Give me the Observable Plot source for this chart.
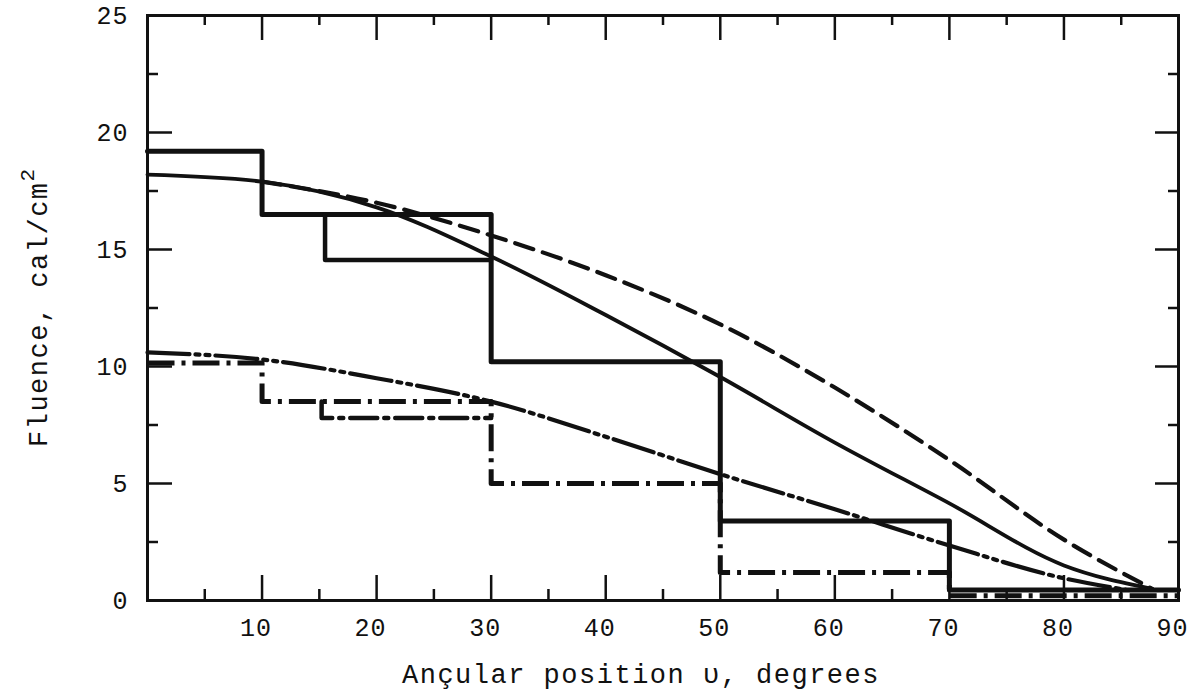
<!DOCTYPE html>
<html>
<head>
<meta charset="utf-8">
<script src="https://cdn.jsdelivr.net/npm/d3@7"></script>
<script src="https://cdn.jsdelivr.net/npm/@observablehq/plot@0.6"></script>
<style>
  html, body { margin: 0; padding: 0; background: #fff; }
  #chart svg { display: block; }
</style>
</head>
<body>
<div id="chart"></div>
<script>
// Axis ticks
const xTickLabels = [10, 20, 30, 40, 50, 60, 70, 80, 90];
const yTickLabels = [0, 5, 10, 15, 20, 25];
const xMajorTicks = [10, 20, 30, 40, 50, 60, 70, 80];
const xMinorTicks = [5, 15, 25, 35, 45, 55, 65, 75, 85];
const yMajorTicks = [5, 10, 15, 20];
const yMinorTicks = [2.5, 7.5, 12.5, 17.5, 22.5];

// Histogram bins (edges in degrees) and bin fluences
const binEdges = [0, 10, 30, 50, 70, 90];
const solidBins = [19.2, 16.5, 10.2, 3.4, 0.45];
const dashDotBins = [10.15, 8.5, 5.0, 1.2, 0.2];

// Partial sub-bins ending at 30 degrees
const solidSubEdge = 15.5;
const solidSub = [16.5, 14.55];
const dashDotSubEdge = 15.2;
const dashDotSub = [8.5, 7.8];

// Smooth distributions
const solidCurveAngle = [0, 10, 20, 30, 40, 50, 60, 70, 80, 87.7];
const solidCurveValue = [18.2, 17.9, 16.8, 14.7, 12.2, 9.55, 6.75, 4.15, 1.5, 0.5];
const dashedCurveAngle = [10, 20, 30, 40, 50, 60, 70, 80, 87.7];
const dashedCurveValue = [17.9, 17.0, 15.6, 13.9, 11.8, 9.1, 6.0, 2.6, 0.5];
const dddCurveAngle = [0, 10, 20, 30, 40, 50, 60, 70, 80, 85.5];
const dddCurveValue = [10.6, 10.3, 9.5, 8.5, 7.0, 5.4, 3.9, 2.35, 0.95, 0.45];

const W = 1190, H = 694;
const mL = 147, mR = 12, mT = 15, mB = 94;
const innerW = W - mL - mR, innerH = H - mT - mB;
const FONT = "'Liberation Mono', 'DejaVu Sans Mono', monospace";
const INK = "#111";

const stepPoints = (edges, vals) =>
  edges.map((e, i) => ({x: e, y: vals[Math.min(i, vals.length - 1)]}));
const subPoints = (edge, vals, end) =>
  [{x: edge, y: vals[0]}, {x: edge, y: vals[1]}, {x: end, y: vals[1]}];
const zipPts = (xs, ys) => xs.map((x, i) => ({x, y: ys[i]}));

const plot = Plot.plot({
  width: W,
  height: H,
  marginLeft: mL,
  marginRight: mR,
  marginTop: mT,
  marginBottom: mB,
  style: {fontFamily: FONT, fontSize: "25px", color: INK, background: "#fff", letterSpacing: "1px"},
  x: {domain: [0, 90], label: null},
  y: {domain: [0, 25], label: null},
  marks: [
    // inward ticks on all four sides
    Plot.tickY(yMajorTicks, {y: d => d, insetRight: innerW - 25, stroke: INK, strokeWidth: 2.5}),
    Plot.tickY(yMinorTicks, {y: d => d, insetRight: innerW - 11, stroke: INK, strokeWidth: 2.5}),
    Plot.tickY(yMajorTicks, {y: d => d, insetLeft: innerW - 23, stroke: INK, strokeWidth: 2.5}),
    Plot.tickY(yMinorTicks, {y: d => d, insetLeft: innerW - 10, stroke: INK, strokeWidth: 2.5}),
    Plot.tickX(xMajorTicks, {x: d => d, insetTop: innerH - 25, stroke: INK, strokeWidth: 2.5}),
    Plot.tickX(xMinorTicks, {x: d => d, insetTop: innerH - 11, stroke: INK, strokeWidth: 2.5}),
    Plot.tickX(xMajorTicks, {x: d => d, insetBottom: innerH - 25, stroke: INK, strokeWidth: 2.5}),
    Plot.tickX(xMinorTicks, {x: d => d, insetBottom: innerH - 10, stroke: INK, strokeWidth: 2.5}),

    // histograms
    Plot.line(stepPoints(binEdges, solidBins), {x: "x", y: "y", curve: "step-after", stroke: INK, strokeWidth: 5}),
    Plot.line(subPoints(solidSubEdge, solidSub, binEdges[2]), {x: "x", y: "y", stroke: INK, strokeWidth: 4.5}),
    Plot.line(stepPoints(binEdges, dashDotBins), {x: "x", y: "y", curve: "step-after", stroke: INK, strokeWidth: 5, strokeDasharray: "27,7,4,7", strokeLinecap: "butt"}),
    Plot.line(subPoints(dashDotSubEdge, dashDotSub, binEdges[2]), {x: "x", y: "y", stroke: INK, strokeWidth: 4.5, strokeDasharray: "27,7,4,7"}),

    // smooth curves
    Plot.line(zipPts(solidCurveAngle, solidCurveValue), {x: "x", y: "y", curve: "monotone-x", stroke: INK, strokeWidth: 3.8}),
    Plot.line(zipPts(dashedCurveAngle, dashedCurveValue), {x: "x", y: "y", curve: "monotone-x", stroke: INK, strokeWidth: 4.2, strokeDasharray: "19,10"}),
    Plot.line(zipPts(dddCurveAngle, dddCurveValue), {x: "x", y: "y", curve: "monotone-x", stroke: INK, strokeWidth: 4.2, strokeDasharray: "42,6,4,6,4,6"}),

    Plot.frame({stroke: INK, strokeWidth: 3}),
    Plot.axisX(xTickLabels, {tickSize: 0, tickPadding: 18, dx: -6, fontSize: 25, label: null}),
    Plot.axisY(yTickLabels, {tickSize: 0, tickPadding: 19, fontSize: 25, label: null})
  ]
});

document.getElementById("chart").appendChild(plot);

// Axis titles
const svg = d3.select(plot);
svg.append("text")
  .attr("x", 641)
  .attr("y", 683)
  .attr("text-anchor", "middle")
  .attr("font-family", FONT)
  .attr("font-size", 27)
  .attr("letter-spacing", "1.5px")
  .attr("fill", INK)
  .text("Ançular position ʋ, degrees");

const yTitle = svg.append("text")
  .attr("transform", "translate(47,447) rotate(-90)")
  .attr("text-anchor", "start")
  .attr("font-family", FONT)
  .attr("font-size", 27)
  .attr("letter-spacing", "1.5px")
  .attr("fill", INK);
yTitle.append("tspan").text("Fluence, cal/cm");
yTitle.append("tspan").attr("dy", -13).attr("font-size", 21).text("2");
</script>
</body>
</html>
